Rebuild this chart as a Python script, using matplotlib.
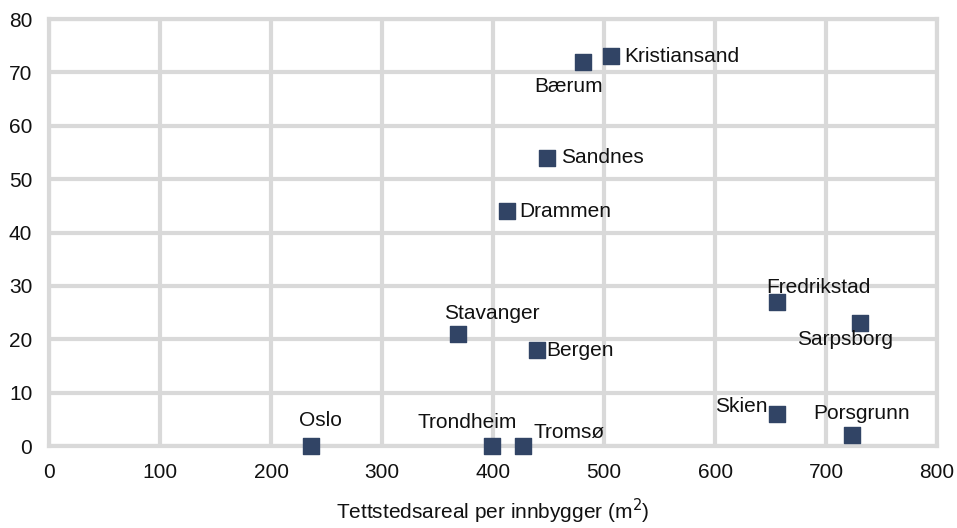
import matplotlib.pyplot as plt

plt.rcParams['font.family'] = ['Liberation Sans', 'DejaVu Sans']

# Data
cities = ['Oslo', 'Trondheim', 'Tromsø', 'Stavanger', 'Bergen', 'Drammen', 'Sandnes',
          'Bærum', 'Kristiansand', 'Fredrikstad', 'Sarpsborg', 'Skien', 'Porsgrunn']
areal = [236, 399, 427, 368, 440, 413, 449, 481, 506, 656, 731, 656, 723]
verdi = [0, 0, 0, 21, 18, 44, 54, 72, 73, 27, 23, 6, 2]

# label offsets in pixels (dx, dy) and alignment
label_pos = {
    'Oslo': (9, 26, 'center'),
    'Trondheim': (-25, 24, 'center'),
    'Tromsø': (10, 14, 'left'),
    'Stavanger': (34, 21, 'center'),
    'Bergen': (9, 0, 'left'),
    'Drammen': (12, 0, 'left'),
    'Sandnes': (14, 0, 'left'),
    'Bærum': (-14, -25, 'center'),
    'Kristiansand': (14, 0, 'left'),
    'Fredrikstad': (41, 14, 'center'),
    'Sarpsborg': (-15, -16, 'center'),
    'Skien': (-10, 8, 'right'),
    'Porsgrunn': (10, 22, 'center'),
}

fig = plt.figure(figsize=(9.57, 5.28), dpi=100)
ax = fig.add_axes([0.0512, 0.155, 0.928, 0.809])

grid_col = '#d9d9d9'
ax.scatter(areal, verdi, marker='s', s=120, color='#314465', zorder=3, clip_on=False)

for name, x, y in zip(cities, areal, verdi):
    dx, dy, ha = label_pos[name]
    ax.annotate(name, (x, y), xytext=(dx, dy), textcoords='offset pixels',
                ha=ha, va='center', fontsize=15, color='#111111', zorder=4)

ax.set_xlim(0, 800)
ax.set_ylim(0, 80)
ax.set_xticks(range(0, 801, 100))
ax.set_yticks(range(0, 81, 10))
ax.grid(True, color=grid_col, linewidth=3)
ax.set_axisbelow(True)
for sp in ax.spines.values():
    sp.set_color(grid_col)
    sp.set_linewidth(3)
ax.tick_params(length=0, labelsize=15, colors='#111111')
ax.tick_params(axis='x', pad=12)
ax.tick_params(axis='y', pad=12)
ax.set_xlabel('Tettstedsareal per innbygger (m$^2$)', fontsize=15, color='#111111', labelpad=11)

fig.savefig('out.png', dpi=100)
